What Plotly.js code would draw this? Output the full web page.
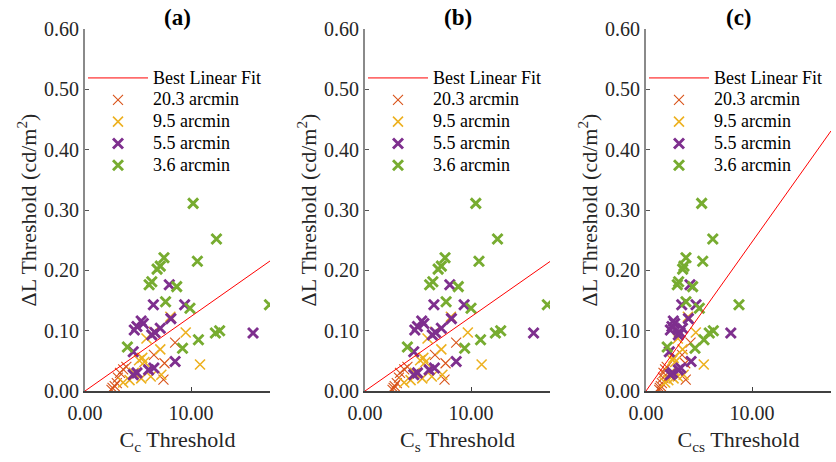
<!DOCTYPE html>
<html>
<head>
<meta charset="utf-8">
<script src="https://cdn.plot.ly/plotly-3.0.1.min.js"></script>
<style>
  html, body { margin: 0; padding: 0; background: #fff; }
  #chart { width: 836px; height: 462px; }
</style>
</head>
<body>
<div id="chart"></div>
<script>
// Luminance-difference thresholds (cd/m^2) for each target size
const dL_203 = [0.080, 0.060, 0.046, 0.019, 0.040, 0.036, 0.030, 0.022, 0.013, 0.008, 0.005, 0.002];
const dL_95  = [0.123, 0.097, 0.098, 0.087, 0.069, 0.055, 0.051, 0.048, 0.044, 0.027, 0.024, 0.021, 0.018, 0.014, 0.030];
const dL_55  = [0.176, 0.143, 0.143, 0.120, 0.116, 0.112, 0.107, 0.101, 0.104, 0.097, 0.093, 0.096, 0.065, 0.049, 0.038, 0.035, 0.030, 0.027];
const dL_36  = [0.311, 0.252, 0.215, 0.221, 0.202, 0.207, 0.176, 0.181, 0.173, 0.148, 0.137, 0.143, 0.096, 0.100, 0.085, 0.071, 0.073];

// Cc thresholds
const cc_203 = [8.5, 6.5, 7.5, 7.4, 3.9, 3.6, 3.3, 3.1, 3.0, 2.8, 2.6, 2.5];
const cc_95  = [8.05, 9.5, 6.5, 5.8, 7.1, 5.4, 5.1, 5.6, 10.85, 7.2, 6.2, 5.3, 4.2, 3.6, 4.6];
const cc_55  = [7.95, 6.45, 9.4, 8.1, 5.3, 5.5, 4.9, 4.65, 7.1, 6.6, 6.3, 15.85, 4.55, 8.5, 6.5, 6.0, 4.9, 4.55];
const cc_36  = [10.2, 12.4, 10.6, 7.45, 6.8, 7.1, 6.05, 6.3, 8.65, 7.6, 9.9, 17.4, 12.3, 12.7, 10.7, 9.2, 4.0];

// Cs thresholds
const cs_203 = [8.6, 6.6, 7.6, 7.5, 4.0, 3.7, 3.3, 3.2, 3.0, 2.8, 2.7, 2.6];
const cs_95  = [8.1, 9.7, 6.6, 5.9, 7.2, 5.5, 5.2, 5.7, 11.0, 7.3, 6.3, 5.4, 4.3, 3.7, 4.7];
const cs_55  = [8.0, 6.5, 9.35, 8.15, 5.35, 5.55, 4.95, 4.7, 7.2, 6.65, 6.35, 15.9, 4.6, 8.6, 6.55, 6.05, 4.95, 4.6];
const cs_36  = [10.45, 12.5, 10.75, 7.55, 6.9, 7.2, 6.1, 6.4, 8.8, 7.65, 10.0, 17.2, 12.3, 12.8, 10.9, 9.4, 4.0];

// Ccs thresholds
const ccs_203 = [4.2, 3.4, 3.7, 3.75, 1.95, 1.8, 1.65, 1.6, 1.5, 1.4, 1.3, 1.25];
const ccs_95  = [3.95, 4.7, 3.1, 3.0, 3.45, 2.6, 2.5, 2.75, 5.45, 3.55, 3.0, 2.6, 2.1, 1.8, 2.3];
const ccs_55  = [4.15, 3.37, 4.72, 4.0, 2.58, 2.7, 2.45, 2.3, 3.44, 3.2, 3.05, 8.0, 2.2, 4.25, 3.28, 3.05, 2.5, 2.3];
const ccs_36  = [5.25, 6.3, 5.35, 3.77, 3.46, 3.58, 2.95, 3.08, 4.4, 3.77, 5.03, 8.77, 5.97, 6.35, 5.47, 4.62, 2.0];

// Best linear fit through the origin: slope per panel, drawn across the x range
const fitSlope = [0.01235, 0.0123, 0.0247];
const xRange = [0, 17.45];

const panelLabels = ['(a)', '(b)', '(c)'];
const xTitles = ['C<sub>c</sub> Threshold', 'C<sub>s</sub> Threshold', 'C<sub>cs</sub> Threshold'];
const groupNames = ['20.3 arcmin', '9.5 arcmin', '5.5 arcmin', '3.6 arcmin'];
const fitName = 'Best Linear Fit';

const FONT = 'Liberation Serif, Times New Roman, serif';
const groupStyle = [
  { color: '#D95319', width: 1.1, size: 10 },
  { color: '#EDB120', width: 1.6, size: 10 },
  { color: '#7E2F8E', width: 2.9, size: 10 },
  { color: '#77AC30', width: 2.9, size: 10 }
];

const panels = [
  { xs: [cc_203, cc_95, cc_55, cc_36] },
  { xs: [cs_203, cs_95, cs_55, cs_36] },
  { xs: [ccs_203, ccs_95, ccs_55, ccs_36] }
];
const ys = [dL_203, dL_95, dL_55, dL_36];

const W = 836, H = 462;
const plotLeft = [85, 365, 646];
const plotWidth = 185;
const plotTop = 29, plotBottom = 391;

// legend entries: larger glyphs on a compact row pitch
const legendLabel = s => '<span style="font-size:18px">' + s + '</span>';

const traces = [];
const layout = {
  width: W, height: H,
  margin: { l: 0, r: 0, t: 0, b: 0 },
  paper_bgcolor: '#fff', plot_bgcolor: '#fff',
  font: { family: FONT, color: '#000' },
  showlegend: true,
  annotations: []
};

panels.forEach((p, i) => {
  const sfx = i === 0 ? '' : String(i + 1);
  const xa = 'x' + sfx, ya = 'y' + sfx;
  const lg = 'legend' + sfx;

  ys.forEach((yv, g) => {
    const st = groupStyle[g];
    traces.push({
      type: 'scatter', mode: 'markers',
      x: p.xs[g], y: yv, xaxis: xa, yaxis: ya,
      name: legendLabel(groupNames[g]), legend: lg, legendrank: 2 + g,
      marker: { symbol: 'x-thin', size: st.size, color: st.color,
                line: { color: st.color, width: st.width } },
      hoverinfo: 'skip'
    });
  });

  traces.push({
    type: 'scatter', mode: 'lines',
    x: xRange, y: xRange.map(v => v * fitSlope[i]),
    xaxis: xa, yaxis: ya,
    name: legendLabel(fitName), legend: lg, legendrank: 1,
    line: { color: '#FF0000', width: 1 },
    hoverinfo: 'skip'
  });

  const d0 = plotLeft[i] / W, d1 = (plotLeft[i] + plotWidth) / W;
  layout['xaxis' + sfx] = {
    domain: [d0, d1], anchor: ya, range: xRange,
    tickvals: [0, 10], tickformat: '.2f',
    ticks: 'inside', ticklen: 4, tickcolor: '#404040', tickwidth: 1,
    ticklabelstandoff: 3,
    showline: true, linecolor: '#404040', linewidth: 1.5,
    showgrid: false, zeroline: false, fixedrange: true,
    tickfont: { family: FONT, size: 20, color: '#262626' },
    title: { text: xTitles[i], font: { family: FONT, size: 22, color: '#262626' }, standoff: 9 }
  };
  layout['yaxis' + sfx] = {
    domain: [1 - plotBottom / H, 1 - plotTop / H], anchor: xa, range: [0, 0.6],
    tickvals: [0, 0.1, 0.2, 0.3, 0.4, 0.5, 0.6], tickformat: '.2f',
    ticks: 'inside', ticklen: 4, tickcolor: '#555', tickwidth: 1,
    showline: true, linecolor: '#8a8a8a', linewidth: 2,
    showgrid: false, zeroline: false, fixedrange: true,
    tickfont: { family: FONT, size: 20, color: '#262626' },
    title: { text: '\u0394L Threshold (cd/m<sup>2</sup>)', font: { family: FONT, size: 22, color: '#262626' }, standoff: 1 }
  };
  layout[lg] = {
    x: (plotLeft[i] - 2) / W, xanchor: 'left',
    y: 1 - 62 / H, yanchor: 'top',
    bgcolor: 'rgba(0,0,0,0)', borderwidth: 0,
    font: { family: FONT, size: 14.5, color: '#000' },
    itemwidth: 60, traceorder: 'normal', tracegroupgap: 0
  };
  layout.annotations.push({
    text: '<b>' + panelLabels[i] + '</b>',
    xref: 'paper', yref: 'paper',
    x: (plotLeft[i] + plotWidth / 2) / W, y: 1 - 17 / H,
    xanchor: 'center', yanchor: 'middle', showarrow: false,
    font: { family: FONT, size: 23, color: '#000' }
  });
});

Plotly.newPlot('chart', traces, layout, { displayModeBar: false, staticPlot: true });
</script>
</body>
</html>
